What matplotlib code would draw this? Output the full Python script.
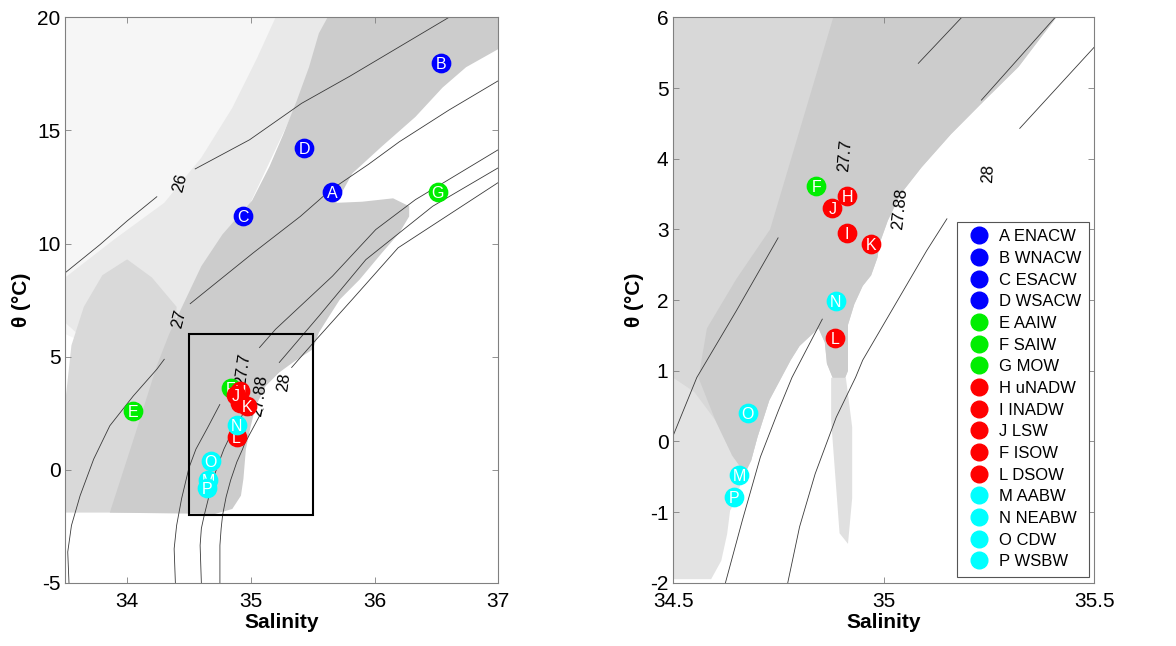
import numpy as np
import matplotlib
matplotlib.use('Agg')
import matplotlib.pyplot as plt
from matplotlib.patches import Polygon, Rectangle
from matplotlib.lines import Line2D

plt.rcParams['font.family'] = ['Liberation Sans', 'DejaVu Sans']
plt.rcParams['axes.unicode_minus'] = False

nan = np.nan

# ---- water masses ----
letters = ['A', 'B', 'C', 'D', 'E', 'F', 'G', 'H', 'I', 'J', 'K', 'L', 'M', 'N', 'O', 'P']
legend_labels = ['A ENACW', 'B WNACW', 'C ESACW', 'D WSACW', 'E AAIW', 'F SAIW', 'G MOW',
                 'H uNADW', 'I INADW', 'J LSW', 'F ISOW', 'L DSOW', 'M AABW', 'N NEABW',
                 'O CDW', 'P WSBW']
wm_sal = [35.66, 36.54, 34.94, 35.43, 34.05, 34.84, 36.51, 34.913, 34.913, 34.878,
          34.969, 34.885, 34.657, 34.886, 34.677, 34.644]
wm_theta = [12.3, 18.0, 11.24, 14.22, 2.6, 3.62, 12.28, 3.47, 2.95, 3.31,
            2.8, 1.46, -0.48, 1.98, 0.40, -0.79]
wm_colors = ['#0000ff'] * 4 + ['#00ee00'] * 3 + ['#ff0000'] * 5 + ['#00ffff'] * 4

# ---- isopycnals, left panel (nan = gap for the label) ----
iso26_S_left = [33.5, 33.78, 34.0, 34.24, nan, 34.55, 34.99, 35.41, 35.8, 36.2, 36.6]
iso26_T_left = [8.71, 9.95, 11.0, 12.07, nan, 13.3, 14.59, 16.2, 17.4, 18.7, 20.0]
iso27_S_left = [33.53, 33.52, 33.55, 33.62, 33.73, 33.86, 34.05, 34.24, 34.30, nan,
                34.51, 35.02, 35.4, 35.64, 35.95, 36.2, 36.6, 37.0]
iso27_T_left = [-5.0, -3.64, -2.47, -1.15, 0.47, 1.94, 3.26, 4.44, 4.88, nan,
                7.34, 9.59, 11.2, 12.35, 13.5, 14.5, 15.9, 17.2]
iso277_S_left = [34.39, 34.38, 34.40, 34.44, 34.5, 34.556, 34.65, 34.749, nan,
                 35.07, 35.2, 35.66, 36.01, 36.33, 37.0]
iso277_T_left = [-5.0, -3.5, -2.47, -1.29, 0.085, 0.905, 1.85, 2.88, nan,
                 5.4, 6.21, 8.56, 10.62, 11.94, 14.15]
iso2788_S_left = [34.6, 34.59, 34.6, 34.624, 34.664, 34.707, 34.75, 34.782, 34.854, 34.93, nan,
                  35.23, 35.55, 35.93, 36.47, 37.0]
iso2788_T_left = [-5.0, -3.35, -2.6, -2.0, -1.12, -0.22, 0.44, 0.905, 1.73, 2.4, nan,
                  4.74, 6.79, 9.29, 11.65, 13.35]
iso28_S_left = [34.75, 34.75, 34.76, 34.772, 34.80, 34.837, 34.887, 34.933, 34.95, 35.1, nan,
                35.33, 35.5, 35.82, 36.19, 37.0]
iso28_T_left = [-5.0, -3.35, -2.6, -2.0, -1.21, -0.46, 0.34, 0.905, 1.15, 2.68, nan,
                4.52, 5.58, 7.53, 9.81, 12.7]

# ---- isopycnals, right panel (visible pieces only) ----
iso277_S_right = [34.5, 34.556, 34.65, 34.749, nan, 35.082, 35.185]
iso277_T_right = [0.085, 0.905, 1.85, 2.88, nan, 5.35, 6.0]
iso2788_S_right = [34.624, 34.664, 34.707, 34.75, 34.782, 34.854, nan, 35.232, 35.407]
iso2788_T_right = [-2.0, -1.12, -0.22, 0.44, 0.905, 1.73, nan, 4.83, 6.0]
iso28_S_right = [34.772, 34.80, 34.837, 34.887, 34.933, 34.95, 35.102, 35.15, nan, 35.323, 35.5]
iso28_T_right = [-2.0, -1.21, -0.46, 0.34, 0.905, 1.15, 2.70, 3.15, nan, 4.43, 5.58]

# contour labels: text, S, T, angle
labels_left = [('26', 34.43, 12.68, 76), ('27', 34.42, 6.65, 76), ('27.7', 34.94, 4.44, 82),
               ('27.88', 35.07, 3.26, 82), ('28', 35.27, 3.86, 82)]
labels_right = [('27.7', 34.908, 4.05, 85), ('27.88', 35.037, 3.29, 84), ('28', 35.248, 3.79, 87)]

# ---- data cloud outlines, left panel ----
left_sparse_S = [33.5, 33.5, 35.3, 34.6, 33.9]
left_sparse_T = [6.0, 20.0, 20.0, 11.0, 5.0]
left_mid_S = [33.5, 33.5, 33.9, 34.3, 34.6, 34.85, 35.05, 35.2, 35.7, 34.5, 33.8]
left_mid_T = [6.5, 8.5, 10.2, 11.8, 13.8, 16.0, 18.2, 20.0, 20.0, 6.0, 5.0]
left_speck_S = [33.5, 33.5, 33.55, 33.65, 33.8, 34.0, 34.2, 34.4, 34.3]
left_speck_T = [-1.9, 3.0, 5.5, 7.2, 8.6, 9.3, 8.5, 7.2, -1.9]
left_dense_S = [33.86, 34.07, 34.24, 34.34, 34.47, 34.6, 34.77, 35.01, 35.15, 35.26, 35.37,
                35.47, 35.55, 35.62, 37.0, 37.0, 36.74, 36.55, 36.33, 36.06, 35.82, 35.72,
                35.69, 35.9, 36.15, 36.28, 36.28, 36.2, 36.06, 35.88, 35.72, 35.6, 35.55,
                35.5, 35.34, 35.23, 35.12, 35.04, 35.0, 34.96, 34.94, 34.92, 34.85, 34.71]
left_dense_T = [-1.9, 1.65, 4.6, 6.0, 7.5, 9.0, 10.4, 11.9, 13.4, 14.8, 16.3,
                17.8, 19.3, 20.0, 20.0, 18.6, 17.8, 16.9, 15.6, 14.3, 13.1, 12.1,
                11.8, 11.85, 12.0, 11.65, 11.2, 10.47, 9.59, 8.41, 7.53, 6.5, 6.06,
                5.32, 4.74, 4.3, 3.7, 2.82, 1.94, 0.91, -0.41, -1.15, -1.74, -1.96]

# ---- data cloud outlines, right panel ----
right_edge_S = [35.41, 35.38, 35.32, 35.24, 35.16, 35.09, 35.04, 35.01, 34.99, 34.985, 34.97,
                34.95, 34.93, 34.915, 34.915, 34.915, 34.905, 34.88, 34.865, 34.86, 34.845,
                34.80, 34.779, 34.728, 34.70, 34.685, 34.67]
right_edge_T = [6.0, 5.77, 5.3, 4.83, 4.35, 3.88, 3.5, 3.13, 2.8, 2.6, 2.35,
                2.2, 1.94, 1.65, 1.3, 1.0, 0.85, 0.88, 1.1, 1.4, 1.6,
                1.35, 1.15, 0.58, 0.06, -0.27, -0.45]
right_core_S = [34.64, 34.6, 34.56, 34.58, 34.65, 34.73, 34.78, 34.83, 34.88]
right_core_T = [-0.2, 0.3, 0.9, 1.6, 2.3, 3.0, 4.0, 5.0, 6.0]
right_speck_S = [34.64, 34.6, 34.55, 34.5, 34.5]
right_speck_T = [-0.2, 0.3, 0.7, 0.9, 6.0]
right_light_S = [34.5, 34.59, 34.614, 34.628, 34.635, 34.649, 34.66, 34.685, 34.70, 34.728, 34.76, 34.5]
right_light_T = [-1.95, -1.95, -1.69, -1.31, -0.98, -0.83, -0.6, -0.27, 0.06, 0.58, 1.2, 1.2]
right_tail_S = [34.875, 34.91, 34.925, 34.925, 34.915, 34.895, 34.885, 34.875]
right_tail_T = [0.9, 0.9, 0.2, -0.8, -1.45, -1.3, -0.5, 0.3]

line_color = '#3a3a3a'
frame_color = '#808080'


def add_cloud(ax, s, t, color):
    ax.add_patch(Polygon(np.column_stack([s, t]), closed=True, facecolor=color,
                         edgecolor='none', zorder=1))


def style_axes(ax, xlim, ylim, xticks, yticks):
    ax.set_xlim(xlim)
    ax.set_ylim(ylim)
    ax.set_xticks(xticks)
    ax.set_yticks(yticks)
    ax.set_xticklabels([('%g' % v) for v in xticks])
    ax.set_yticklabels([('%g' % v) for v in yticks])
    ax.tick_params(direction='in', top=True, right=True, length=4, width=0.6,
                   color=frame_color, labelsize=15)
    ax.tick_params(axis='x', pad=7)
    ax.tick_params(axis='y', pad=3.5)
    for sp in ax.spines.values():
        sp.set_color(frame_color)
        sp.set_linewidth(0.8)
    ax.set_xlabel('Salinity', fontsize=15, fontweight='bold', labelpad=1)
    ax.set_ylabel('θ (°C)', fontsize=15, fontweight='bold', labelpad=4)


def add_masses(ax, xlim, ylim):
    for i in range(len(letters)):
        s, t = wm_sal[i], wm_theta[i]
        if not (xlim[0] <= s <= xlim[1] and ylim[0] <= t <= ylim[1]):
            continue
        ax.plot(s, t, 'o', ms=13.2, mfc=wm_colors[i], mec=wm_colors[i], zorder=5 + i)
        ax.text(s, t, letters[i], color='white', fontsize=11.5, ha='center',
                va='center_baseline', zorder=5.5 + i)


def add_labels(ax, labels):
    for txt, s, t, ang in labels:
        ax.text(s, t, txt, rotation=ang, fontsize=12, ha='center', va='center', zorder=2.5)


fig = plt.figure(figsize=(11.76, 6.46), dpi=100)
ax1 = fig.add_axes([0.0555, 0.098, 0.3682, 0.875])
ax2 = fig.add_axes([0.5725, 0.098, 0.358, 0.875])

# left panel
add_cloud(ax1, left_sparse_S, left_sparse_T, '#f6f6f6')
add_cloud(ax1, left_mid_S, left_mid_T, '#e9e9e9')
add_cloud(ax1, left_speck_S, left_speck_T, '#d9d9d9')
add_cloud(ax1, left_dense_S, left_dense_T, '#cccccc')
for s, t in [(iso26_S_left, iso26_T_left), (iso27_S_left, iso27_T_left),
             (iso277_S_left, iso277_T_left), (iso2788_S_left, iso2788_T_left),
             (iso28_S_left, iso28_T_left)]:
    ax1.plot(s, t, color=line_color, lw=0.6, zorder=2)
add_labels(ax1, labels_left)
ax1.add_patch(Rectangle((34.5, -2), 1.0, 8.0, fill=False, edgecolor='black', lw=1.5, zorder=4))
add_masses(ax1, (33.5, 37), (-5, 20))
style_axes(ax1, (33.5, 37), (-5, 20), [34, 35, 36, 37], [-5, 0, 5, 10, 15, 20])

# right panel
add_cloud(ax2, right_light_S, right_light_T, '#e3e3e3')
add_cloud(ax2, right_edge_S + right_speck_S, right_edge_T + right_speck_T, '#d8d8d8')
add_cloud(ax2, right_edge_S + right_core_S, right_edge_T + right_core_T, '#cccccc')
add_cloud(ax2, right_tail_S, right_tail_T, '#e0e0e0')
for s, t in [(iso277_S_right, iso277_T_right), (iso2788_S_right, iso2788_T_right),
             (iso28_S_right, iso28_T_right)]:
    ax2.plot(s, t, color=line_color, lw=0.6, zorder=2)
add_labels(ax2, labels_right)
add_masses(ax2, (34.5, 35.5), (-2, 6))
style_axes(ax2, (34.5, 35.5), (-2, 6), [34.5, 35, 35.5], [-2, -1, 0, 1, 2, 3, 4, 5, 6])

handles = [Line2D([], [], marker='o', ls='none', ms=12, mfc=c, mec=c) for c in wm_colors]
leg = ax2.legend(handles, legend_labels, loc='lower right', bbox_to_anchor=(0.988, 0.0106),
                 borderaxespad=0, fontsize=12, labelspacing=0.4, handlelength=1.7,
                 handletextpad=0.4, borderpad=0.45, fancybox=False, framealpha=1)
leg.get_frame().set_edgecolor('#555555')
leg.get_frame().set_linewidth(0.8)
leg.set_zorder(30)

fig.savefig('out.png', dpi=100)
